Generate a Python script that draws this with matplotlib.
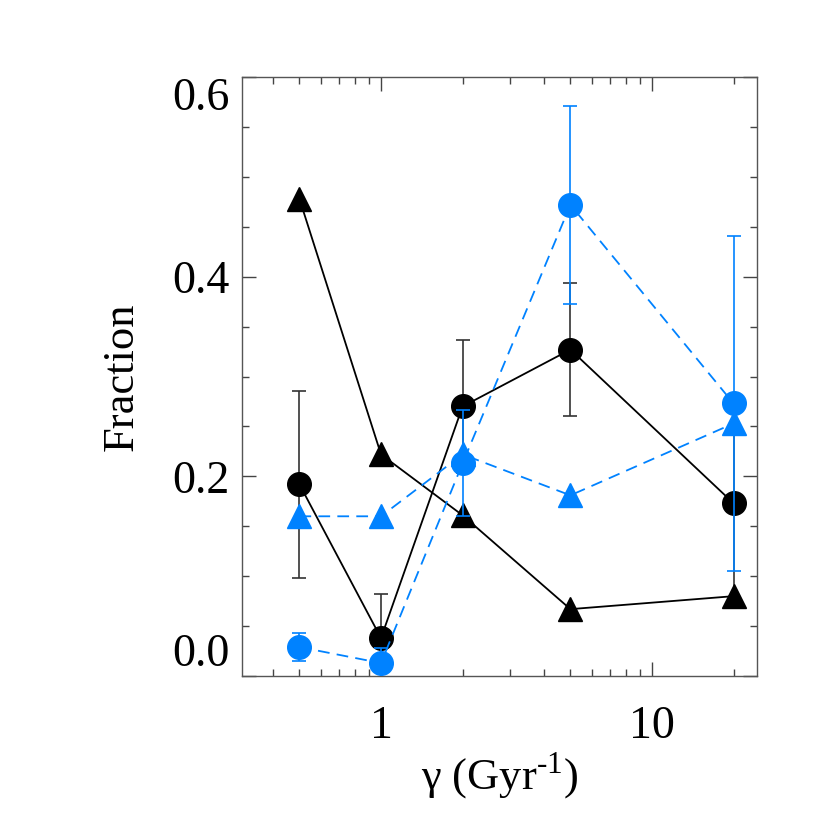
import numpy as np
import matplotlib
matplotlib.use('Agg')
import matplotlib.pyplot as plt
from matplotlib.ticker import FixedLocator, NullFormatter

plt.rcParams['font.family'] = ['Liberation Serif', 'DejaVu Serif']
plt.rcParams['mathtext.fontset'] = 'custom'
plt.rcParams['mathtext.rm'] = 'Liberation Serif'

# gamma values (Gyr^-1)
gamma = [0.5, 1, 2, 5, 20]

# black: solid line, circles with error bars
black_circ = [0.192, 0.038, 0.270, 0.327, 0.173]
black_circ_err = [0.094, 0.044, 0.067, 0.067, 0.105]
# black: solid line, triangles
black_tri = [0.478, 0.222, 0.161, 0.067, 0.080]

# blue: dashed line, circles with error bars
blue_circ = [0.029, 0.013, 0.213, 0.472, 0.273]
blue_circ_err = [0.014, 0.015, 0.053, 0.099, 0.168]
# blue: dashed line, triangles
blue_tri = [0.160, 0.160, 0.222, 0.181, 0.253]

blue = '#0082ff'

fig = plt.figure(figsize=(8.3, 8.3), dpi=100)
ax = fig.add_axes([0.2916, 0.1855, 0.6204, 0.7217])

ax.errorbar(gamma, black_circ, yerr=black_circ_err, fmt='none', ecolor='#333333',
            elinewidth=1.2, capsize=5, capthick=1.2, zorder=2)
ax.plot(gamma, black_circ, '-', color='black', lw=1.3, marker='o', ms=17, zorder=3)
ax.plot(gamma, black_tri, '-', color='black', lw=1.3, marker='^', ms=17, zorder=3)

ax.errorbar(gamma, blue_circ, yerr=blue_circ_err, fmt='none', ecolor=blue,
            elinewidth=1.2, capsize=5, capthick=1.2, zorder=4)
ax.plot(gamma, blue_circ, color=blue, lw=1.3, dashes=(6.5, 4), marker='o', ms=17, zorder=5)
ax.plot(gamma, blue_tri, color=blue, lw=1.3, dashes=(6.5, 4), marker='^', ms=17, zorder=5)

ax.set_xscale('log')
ax.set_xlim(0.307, 24.4)
ax.set_ylim(0, 0.6)

ax.set_xticks([1, 10])
ax.set_xticklabels(['1', '10'])
minor_x = [0.4, 0.5, 0.6, 0.7, 0.8, 0.9, 2, 3, 4, 5, 6, 7, 8, 9, 20]
ax.xaxis.set_minor_locator(FixedLocator(minor_x))
ax.xaxis.set_minor_formatter(NullFormatter())

ax.set_yticks([0.0, 0.2, 0.4, 0.6])
ax.set_yticklabels(['0.0', '0.2', '0.4', '0.6'])
ax.yaxis.set_minor_locator(FixedLocator(np.arange(0.05, 0.6, 0.05)))

ax.tick_params(which='both', direction='in', top=True, right=True, color='#444444', width=1)
ax.tick_params(which='major', length=10, labelsize=33)
ax.tick_params(which='minor', length=5)
ax.tick_params(axis='x', which='major', pad=21)
ax.tick_params(axis='y', which='major', pad=9)

labels = ax.get_yticklabels()
labels[0].set_verticalalignment('bottom')
labels[-1].set_verticalalignment('top')

for s in ax.spines.values():
    s.set_color('#555555')
    s.set_linewidth(1)

ax.set_xlabel(r'γ (Gyr$^{\text{-1}}$)', fontsize=32, labelpad=2)
ax.set_ylabel('Fraction', fontsize=32, labelpad=22)

fig.savefig('out.png', dpi=100)
